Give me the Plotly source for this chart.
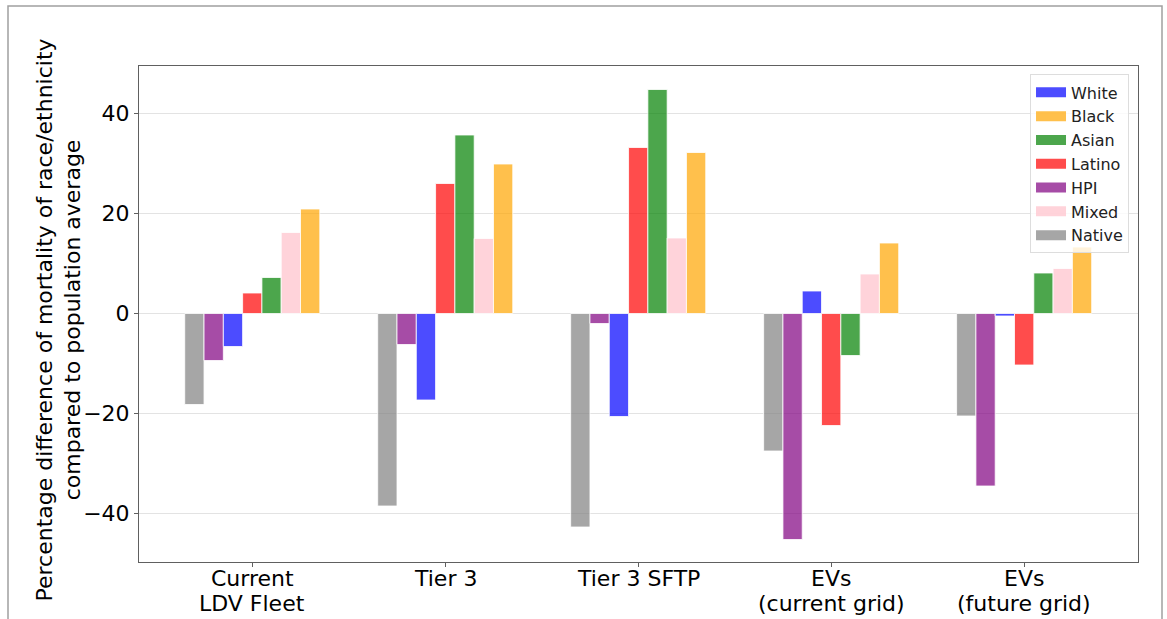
import plotly.graph_objects as go

# Scenarios along the x axis (label lines separated by "\n")
scenarios = ["Current\nLDV Fleet", "Tier 3", "Tier 3 SFTP",
             "EVs\n(current grid)", "EVs\n(future grid)"]

# Percentage difference of mortality vs. population average, per group
native = [-18.2, -38.5, -42.7, -27.5, -20.5]
hpi = [-9.4, -6.2, -2.0, -45.2, -34.5]
white = [-6.6, -17.3, -20.6, 4.5, -0.5]
latino = [4.1, 26.0, 33.2, -22.4, -10.3]
asian = [7.2, 35.7, 44.8, -8.4, 8.1]
mixed = [16.2, 15.0, 15.1, 7.9, 9.0]
black = [20.9, 29.9, 32.2, 14.1, 13.3]

y_ticks = [-40, -20, 0, 20, 40]
y_title = ("Percentage difference of mortality of race/ethnicity<br>"
           "compared to population average")

# (name, values, base rgb, legend rank) in drawing order within each group
series = [
    ("Native", native, (128, 128, 128), 7),
    ("HPI", hpi, (128, 0, 128), 5),
    ("White", white, (0, 0, 255), 1),
    ("Latino", latino, (255, 0, 0), 4),
    ("Asian", asian, (0, 128, 0), 3),
    ("Mixed", mixed, (255, 192, 203), 6),
    ("Black", black, (255, 165, 0), 2),
]
ALPHA = 0.7

W, H = 1167, 619
ML, MR, MT, MB = 139, 29, 66, 57
plot_w = W - ML - MR
plot_h = H - MT - MB


def px_to_paper_y(y_px):
    return (H - MB - y_px) / plot_h


def px_to_paper_x(x_px):
    return (x_px - ML) / plot_w


x_pos = list(range(len(scenarios)))
font_family = "DejaVu Sans, Liberation Sans, sans-serif"

fig = go.Figure()
for name, vals, rgb, rank in series:
    color = "rgba(%d,%d,%d,%.2f)" % (rgb + (ALPHA,))
    fig.add_trace(go.Bar(
        x=x_pos, y=vals, name=name, legendgroup=name, showlegend=False,
        marker=dict(color=color, line=dict(color="white", width=0.8)),
    ))
    # wide rectangular legend key for the group
    fig.add_trace(go.Scatter(
        x=[None], y=[None], mode="lines", name=name, legendgroup=name,
        line=dict(color=color, width=10), legendrank=rank,
        hoverinfo="skip",
    ))

fig.update_layout(
    width=W, height=H,
    margin=dict(l=ML, r=MR, t=MT, b=MB, autoexpand=False),
    paper_bgcolor="white", plot_bgcolor="white",
    barmode="group", bargap=0.3, bargroupgap=0,
    font=dict(family=font_family, size=22, color="black"),
    showlegend=True,
    legend=dict(
        x=0.991, y=0.983, xanchor="right", yanchor="top",
        bgcolor="rgba(255,255,255,0.8)", bordercolor="#dddddd", borderwidth=1,
        font=dict(size=16, color="#222222"),
        tracegroupgap=0,
    ),
)

fig.update_xaxes(
    range=[-0.587, 4.59],
    tickmode="array", tickvals=x_pos, showticklabels=False,
    ticks="outside", ticklen=4, tickcolor="#606060",
    showline=True, linecolor="#606060", linewidth=1, mirror=True,
    showgrid=False, zeroline=False,
)

fig.update_yaxes(
    range=[-49.7, 49.5],
    tickmode="array", tickvals=y_ticks,
    ticks="outside", ticklen=4, tickcolor="#606060",
    showline=True, linecolor="#606060", linewidth=1, mirror=True,
    showgrid=True, gridcolor="#e3e3e3", gridwidth=1,
    zeroline=False,
    tickfont=dict(size=22),
)

# Rotated y-axis title
fig.add_annotation(
    x=px_to_paper_x(58.5), xref="paper", y=px_to_paper_y(320), yref="paper",
    text=y_title, textangle=-90, showarrow=False,
    xanchor="center", yanchor="middle", font=dict(size=22, color="black"),
)

# Category labels under the x axis, one annotation per text line
line_centers_px = [578.5, 603.5]
for i, label in enumerate(scenarios):
    for j, line in enumerate(label.split("\n")):
        fig.add_annotation(
            x=i, xref="x", y=px_to_paper_y(line_centers_px[j]), yref="paper",
            text=line, showarrow=False, xanchor="center", yanchor="middle",
            font=dict(size=22, color="black"),
        )

# Outer frame around the figure
fig.add_shape(type="rect", xref="paper", yref="paper",
              x0=px_to_paper_x(8), x1=px_to_paper_x(1162),
              y0=px_to_paper_y(640), y1=px_to_paper_y(6),
              line=dict(color="#a0a0a0", width=1.5), fillcolor="rgba(0,0,0,0)",
              layer="below")

fig.write_html("out.html")
